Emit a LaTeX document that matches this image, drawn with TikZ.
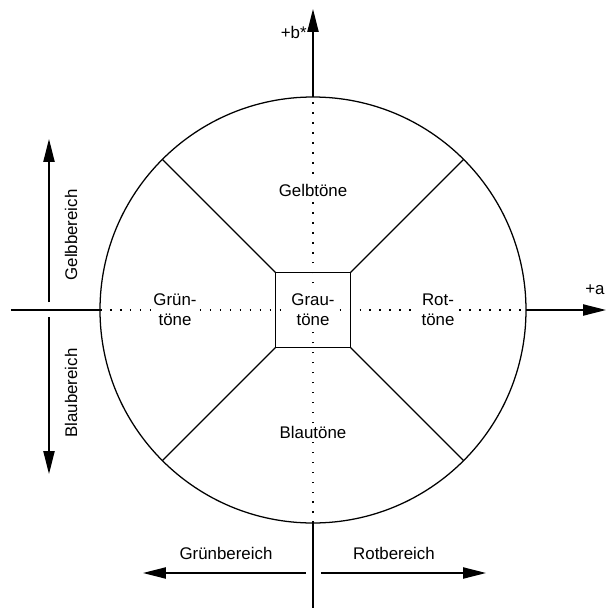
\documentclass[tikz,border=0pt]{standalone}
\usepackage{fontspec}
\setmainfont{Liberation Sans}
\usetikzlibrary{arrows.meta}
\begin{document}
\begin{tikzpicture}[
        linie/.style={line width=0.9pt},
        pfeil/.style={line width=0.9pt, -{Triangle[length=5.7mm, width=2.8mm]}},
        hilfslinie/.style={line width=0.9pt, dash pattern=on 1.1pt off 6pt},
        schrift/.style={font=\fontsize{12pt}{14.2pt}\selectfont, align=center, inner sep=1.5pt},
        feld/.style={schrift, fill=white}]
    \useasboundingbox (-7.825, -7.45) rectangle (7.325, 7.75);

    % Achsen
    \coordinate (O) at (0, 0);
    \coordinate (links) at (-7.55, 0);
    \coordinate (rechts) at (7.325, 0);
    \coordinate (unten) at (0, -7.6);
    \coordinate (oben) at (0, 7.525);

    \draw[linie] (O) circle (5.325);

    \draw[linie] (links) -- (180:5.325);
    \draw[hilfslinie] (180:5.325) -- (0:5.325);
    \draw[pfeil] (0:5.325) -- (rechts);

    \draw[linie] (unten) -- (270:5.325);
    \draw[hilfslinie] (270:5.325) -- (90:5.325);
    \draw[pfeil] (90:5.325) -- (oben);

    \node[schrift, left] (bstern) at (-0.1, 6.95) {+b*};
    \node[schrift] (aplus) at (7.05, 0.5) {+a};

    % Graubereich und Sektoren
    \node[draw, linie, minimum size=1.875cm, inner sep=0pt, outer sep=0pt] (grau) at (O) {};
    \foreach \ecke/\winkel in {north west/135, north east/45, south west/225, south east/315}
        \draw[linie] (grau.\ecke) -- (\winkel:5.325);

    \node[feld] (grautoene) at (O) {Grau-\\töne};
    \node[feld] (gelbtoene) at (0, 3.0) {Gelbtöne};
    \node[feld] (blautoene) at (0, -3.05) {Blautöne};
    \node[feld] (gruentoene) at (-3.45, 0) {Grün-\\töne};
    \node[feld] (rottoene) at (3.125, 0) {Rot-\\töne};

    % Bereiche
    \coordinate (gelbA) at (-6.6, 0.2);
    \coordinate (gelbB) at (-6.6, 4.275);
    \coordinate (blauA) at (-6.6, -0.175);
    \coordinate (blauB) at (-6.6, -4.1);
    \coordinate (gruenA) at (-0.175, -6.575);
    \coordinate (gruenB) at (-4.25, -6.575);
    \coordinate (rotA) at (0.2, -6.575);
    \coordinate (rotB) at (4.325, -6.575);

    \draw[pfeil] (gelbA) -- (gelbB);
    \draw[pfeil] (blauA) -- (blauB);
    \draw[pfeil] (gruenA) -- (gruenB);
    \draw[pfeil] (rotA) -- (rotB);

    \node[schrift, rotate=90] (gelbbereich) at (-6.05, 1.875) {Gelbbereich};
    \node[schrift, rotate=90] (blaubereich) at (-6.05, -2.075) {Blaubereich};
    \node[schrift] (gruenbereich) at (-2.175, -6.075) {Grünbereich};
    \node[schrift] (rotbereich) at (2.025, -6.075) {Rotbereich};
\end{tikzpicture}
\end{document}
